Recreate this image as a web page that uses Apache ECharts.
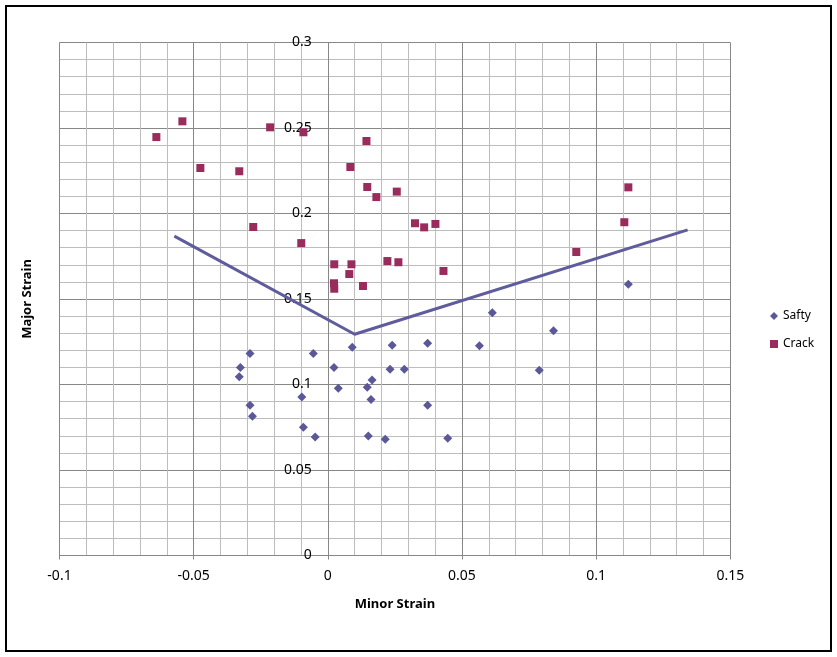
<!DOCTYPE html>
<html><head><meta charset="utf-8">
<script src="https://cdn.jsdelivr.net/npm/echarts@6/dist/echarts.min.js"></script>
<style>html,body{margin:0;padding:0;background:#fff}#c{width:837px;height:657px}</style>
</head><body><div id="c"></div>
<script>
const saftyX = [-0.029, -0.0326, -0.033, -0.029, -0.0281, -0.0054, -0.0097, -0.0091, -0.0047, 0.0091, 0.0023, 0.0039, 0.0147, 0.0165, 0.0161, 0.0151, 0.0214, 0.024, 0.0232, 0.0285, 0.0372, 0.0372, 0.0447, 0.0565, 0.0613, 0.0788, 0.0841, 0.112];
const saftyY = [0.1182, 0.11, 0.1046, 0.0878, 0.0814, 0.1182, 0.0927, 0.075, 0.0693, 0.1218, 0.11, 0.0978, 0.0984, 0.1026, 0.0913, 0.0699, 0.068, 0.1229, 0.1089, 0.1089, 0.1241, 0.0878, 0.0685, 0.1227, 0.142, 0.1083, 0.1315, 0.1586];
const crackX = [-0.0639, -0.0542, -0.0475, -0.033, -0.0278, -0.0215, -0.0091, -0.0099, 0.0144, 0.0084, 0.0147, 0.0181, 0.0257, 0.0024, 0.0088, 0.008, 0.0023, 0.0024, 0.0131, 0.0222, 0.0263, 0.0325, 0.0359, 0.0401, 0.0431, 0.0926, 0.1105, 0.112];
const crackY = [0.2447, 0.2539, 0.2266, 0.2247, 0.1921, 0.2504, 0.2475, 0.1827, 0.2424, 0.2272, 0.2155, 0.2096, 0.2128, 0.1703, 0.1703, 0.1646, 0.1592, 0.156, 0.1576, 0.1722, 0.1715, 0.1943, 0.1919, 0.1939, 0.1664, 0.1775, 0.1949, 0.2153];
const flcX = [-0.0572, 0.01, 0.1341];
const flcY = [0.1868, 0.1294, 0.1904];
const xTicks = [-0.1, -0.05, 0, 0.05, 0.1, 0.15];
const yTicks = [0, 0.05, 0.1, 0.15, 0.2, 0.25, 0.3];

const zip = (a, b) => a.map((v, i) => [v, b[i]]);
const FONT = '"Noto Sans", "DejaVu Sans", sans-serif';
const majorColor = '#878787';
const minorColor = '#BDBDBD';
const W = 837, gridL = 59.5, gridR = 106.7;
const xMin = xTicks[0], xMax = xTicks[xTicks.length - 1];
// shift the y axis so it sits where x = 0 (as in the original)
const yAxisOffset = -((W - gridL - gridR) * (0 - xMin) / (xMax - xMin));

const chart = echarts.init(document.getElementById('c'), null, {renderer: 'canvas'});
chart.setOption({
  backgroundColor: '#fff',
  animation: false,
  grid: {left: gridL, right: gridR, top: 42.5, bottom: 101.5, containLabel: false},
  graphic: [
    {type: 'rect', shape: {x: 6, y: 6, width: 825, height: 645}, style: {fill: 'none', stroke: '#000', lineWidth: 2}, z: 100},
    {type: 'text', x: 27, y: 299, rotation: Math.PI / 2, style: {text: 'Major Strain', font: 'bold 13px ' + FONT, fill: '#000', align: 'center', verticalAlign: 'middle'}}
  ],
  legend: {
    orient: 'vertical', left: 765, top: 305, itemWidth: 8, itemHeight: 8, itemGap: 16,
    textStyle: {fontSize: 12, fontFamily: FONT, color: '#000'},
    data: ['Safty', 'Crack']
  },
  xAxis: {
    type: 'value', min: xMin, max: xMax, interval: 0.05,
    name: 'Minor Strain', nameLocation: 'middle', nameGap: 42,
    nameTextStyle: {fontSize: 13, fontWeight: 'bold', fontFamily: FONT, color: '#000'},
    axisLine: {show: true, onZero: false, lineStyle: {color: majorColor, width: 1}},
    axisTick: {show: true, length: 4, lineStyle: {color: majorColor}},
    axisLabel: {fontSize: 14, fontFamily: FONT, color: '#000', margin: 14, formatter: v => String(+v.toFixed(2))},
    splitLine: {show: true, lineStyle: {color: majorColor, width: 1}},
    minorTick: {show: false, splitNumber: 5},
    minorSplitLine: {show: true, lineStyle: {color: minorColor, width: 1}}
  },
  yAxis: {
    type: 'value', min: yTicks[0], max: yTicks[yTicks.length - 1], interval: 0.05,
    position: 'left', offset: yAxisOffset,
    axisLine: {show: true, onZero: false, lineStyle: {color: majorColor, width: 1}},
    axisTick: {show: true, length: 4, lineStyle: {color: majorColor}},
    axisLabel: {fontSize: 14, fontFamily: FONT, color: '#000', margin: 16, formatter: v => String(+v.toFixed(2))},
    splitLine: {show: true, lineStyle: {color: majorColor, width: 1}},
    minorTick: {show: false, splitNumber: 5},
    minorSplitLine: {show: true, lineStyle: {color: minorColor, width: 1}}
  },
  series: [
    {name: 'FLC', type: 'line', data: zip(flcX, flcY), symbol: 'none', lineStyle: {color: '#5E5C9C', width: 3}, z: 3},
    {name: 'Safty', type: 'scatter', data: zip(saftyX, saftyY), symbol: 'diamond', symbolSize: 9, itemStyle: {color: '#5A5898', opacity: 1}, z: 4},
    {name: 'Crack', type: 'scatter', data: zip(crackX, crackY), symbol: 'rect', symbolSize: 8, itemStyle: {color: '#992C5C', opacity: 1}, z: 4}
  ]
});
</script></body></html>
